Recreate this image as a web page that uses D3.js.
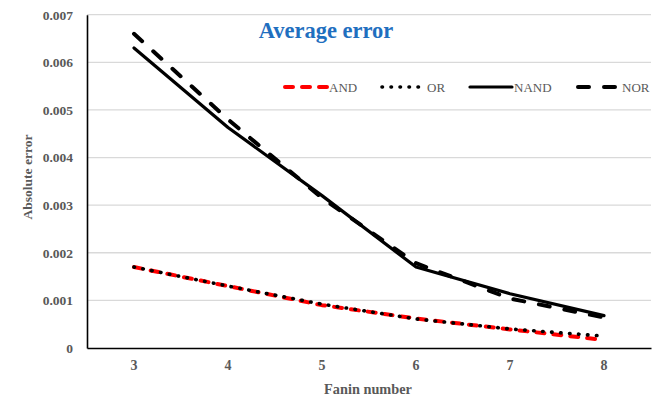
<!DOCTYPE html>
<html>
<head>
<meta charset="utf-8">
<script src="https://cdn.jsdelivr.net/npm/d3@7"></script>
<style>
  html, body { margin: 0; padding: 0; background: #fff; }
  svg { display: block; font-family: "Liberation Serif", "Times New Roman", serif; }
</style>
</head>
<body>
<svg id="chart" width="669" height="401"></svg>
<script>
// Fanin numbers on the x axis
const fanin = ["3", "4", "5", "6", "7", "8"];
// Average absolute error for each gate type
const andErr  = [0.0017, 0.0013, 0.0009, 0.00062, 0.00039, 0.00017];
const orErr   = [0.0017, 0.0013, 0.00092, 0.00061, 0.0004, 0.00025];
const nandErr = [0.0063, 0.00463, 0.0032, 0.0017, 0.00114, 0.00068];
const norErr  = [0.0066, 0.0048, 0.00315, 0.00178, 0.00104, 0.00064];
const yTicks  = [0, 0.001, 0.002, 0.003, 0.004, 0.005, 0.006, 0.007];
const yTickLabels = ["0", "0.001", "0.002", "0.003", "0.004", "0.005", "0.006", "0.007"];

const series = [
  { name: "AND",  values: andErr,  color: "#ff0000", width: 4,   dash: "8,9",    cap: "round" },
  { name: "OR",   values: orErr,   color: "#000000", width: 3.6, dash: "0.5,8.5", cap: "round" },
  { name: "NAND", values: nandErr, color: "#000000", width: 3.2, dash: null,     cap: "round" },
  { name: "NOR",  values: norErr,  color: "#000000", width: 4,   dash: "11,15",  cap: "round" }
];

const svg = d3.select("#chart");
const plotLeft = 87, plotRight = 651, plotTop = 14.7, plotBottom = 348;

const x = d3.scaleBand().domain(fanin).range([plotLeft, plotRight]).padding(0);
const y = d3.scaleLinear().domain([0, 0.007]).range([plotBottom, plotTop]);
const gray = "#595959";

// horizontal gridlines
svg.append("g").selectAll("line").data(yTicks.slice(1)).join("line")
  .attr("x1", plotLeft).attr("x2", plotRight)
  .attr("y1", d => y(d)).attr("y2", d => y(d))
  .attr("stroke", "#d9d9d9").attr("stroke-width", 1.3);

// y axis
const yAxis = d3.axisLeft(y).tickValues(yTicks)
  .tickFormat((d, i) => yTickLabels[i]).tickSize(0).tickPadding(14);
const gy = svg.append("g").attr("transform", `translate(${plotLeft},0)`).call(yAxis);
gy.select(".domain").attr("stroke", "#000").attr("stroke-width", 1.6);
gy.selectAll("text").attr("fill", gray).attr("font-size", 13.5).attr("font-weight", "bold")
  .attr("font-family", "Liberation Serif, Times New Roman, serif");

// x axis
const xAxis = d3.axisBottom(x).tickSize(0).tickPadding(12);
const gx = svg.append("g").attr("transform", `translate(0,${plotBottom})`).call(xAxis);
gx.select(".domain").attr("stroke", "#000").attr("stroke-width", 1.6);
gx.selectAll("text").attr("fill", gray).attr("font-size", 14).attr("font-weight", "bold")
  .attr("font-family", "Liberation Serif, Times New Roman, serif");

// series lines
const line = d3.line()
  .x((d, i) => x(fanin[i]) + x.bandwidth() / 2)
  .y(d => y(d));

series.forEach(s => {
  svg.append("path")
    .datum(s.values)
    .attr("d", line)
    .attr("fill", "none")
    .attr("stroke", s.color)
    .attr("stroke-width", s.width)
    .attr("stroke-linecap", s.cap)
    .attr("stroke-linejoin", "round")
    .attr("stroke-dasharray", s.dash);
});

// title
svg.append("text").attr("x", 326).attr("y", 37.5)
  .attr("text-anchor", "middle").attr("fill", "#1f6fbf")
  .attr("font-size", 22.5).attr("font-weight", "bold")
  .text("Average error");

// axis titles
svg.append("text")
  .attr("transform", "translate(31.5,177) rotate(-90)")
  .attr("text-anchor", "middle").attr("fill", gray)
  .attr("font-size", 13.5).attr("font-weight", "bold")
  .text("Absolute error");

svg.append("text").attr("x", 368).attr("y", 394)
  .attr("text-anchor", "middle").attr("fill", gray)
  .attr("font-size", 14.3).attr("font-weight", "bold")
  .text("Fanin number");

// legend
const legendX = [285, 382, 470, 578];
const lg = svg.append("g");
series.forEach((s, i) => {
  const g = lg.append("g").attr("transform", `translate(${legendX[i]},87)`);
  g.append("line").attr("x1", 0).attr("x2", i === 1 ? 38 : 42).attr("y1", 0).attr("y2", 0)
    .attr("stroke", s.color).attr("stroke-width", s.width)
    .attr("stroke-linecap", s.cap).attr("stroke-dasharray", s.dash);
  g.append("text").attr("x", i === 1 ? 45 : 44).attr("y", 4.5)
    .attr("fill", gray).attr("font-size", 13)
    .text(s.name);
});
</script>
</body>
</html>
